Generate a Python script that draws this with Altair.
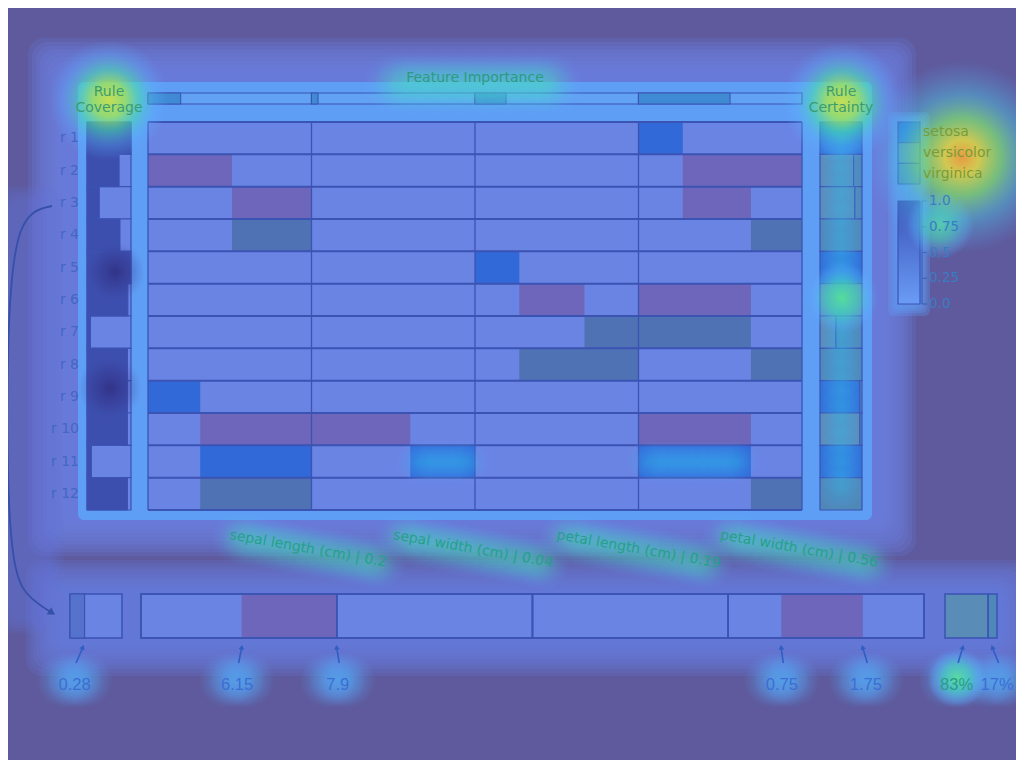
import math
import altair as alt
import pandas as pd

# ---------------- data ----------------
rules = [f"r {i}" for i in range(1, 13)]
features = ["sepal length (cm)", "sepal width (cm)", "petal length (cm)", "petal width (cm)"]
importance = [0.2, 0.04, 0.19, 0.56]
feat_min = [4.3, 2.0, 1.0, 0.1]
feat_max = [7.9, 4.4, 6.9, 2.5]
classes = ["setosa", "versicolor", "virginica"]
rule_output = ["setosa", "versicolor", "versicolor", "virginica", "setosa", "versicolor",
               "virginica", "virginica", "setosa", "versicolor", "setosa", "virginica"]
coverage = [1.0, 0.73, 0.28, 0.75, 1.0, 0.93, 0.08, 0.92, 0.92, 0.92, 0.1, 0.92]
cert_setosa = [1.0, 0.0, 0.0, 0.0, 1.0, 0.0, 0.0, 0.0, 0.95, 0.0, 1.0, 0.0]
cert_versicolor = [0.0, 0.8, 0.83, 0.0, 0.0, 1.0, 0.38, 0.0, 0.05, 0.95, 0.0, 0.0]
cert_virginica = [0.0, 0.2, 0.17, 1.0, 0.0, 0.0, 0.62, 1.0, 0.0, 0.05, 0.0, 1.0]
cond_rule = [1, 2, 2, 3, 3, 4, 4, 5, 6, 6, 7, 7, 8, 8, 9, 10, 10, 10, 11, 11, 11, 12, 12]
cond_feature = [3, 0, 3, 0, 3, 0, 3, 2, 2, 3, 2, 3, 2, 3, 0, 0, 1, 3, 0, 1, 3, 0, 3]
cond_low = [0.1, 4.3, 0.75, 6.15, 0.75, 6.15, 1.75, 1.0, 2.6, 0.1, 4.95, 0.1, 2.6, 1.75,
            4.3, 5.45, 2.0, 0.1, 5.45, 3.45, 0.1, 5.45, 1.75]
cond_high = [0.75, 6.15, 2.5, 7.9, 1.75, 7.9, 2.5, 2.6, 4.95, 1.75, 6.9, 1.75, 6.9, 2.5,
             5.45, 7.9, 3.45, 1.75, 7.9, 4.4, 1.75, 7.9, 2.5]
detail_rule = 3
scale_ticks = [0.0, 0.25, 0.5, 0.75, 1.0]

# ---------------- styles / layout ----------------
W, H = 1008, 752
OFF = 8
BG = "#5e5a9d"
CELL = "#6a84e4"
LINE = "#3b53b3"
COV = "#3d4fae"
class_fill = ["#3169d9", "#6d66ba", "#4f72b4"]
cert_fill = ["#2f72d8", "#5a8cb8", "#4f88b8"]
FONT = "DejaVu Sans"
FONT2 = "Liberation Sans"


def px(v):
    return v - OFF


def lin(dom, rng):
    return alt.Scale(domain=list(dom), range=[px(rng[0]), px(rng[1])], nice=False, zero=False)


IDX = alt.Scale(domain=[0, W], range=[0, W], nice=False, zero=False)
IDY = alt.Scale(domain=[0, H], range=[0, H], nice=False, zero=False)

MX = lin([0, 4], [148, 802])
MY = lin([0, 12], [122, 510])
CX = lin([0, 1], [87, 131])
KX = lin([0, 1], [820, 862])
LY = lin([0, 3], [122, 184])
SY = lin([0, 1], [304, 201])
DC = lin([0, 1], [70, 122])
DM = lin([0, 4], [141, 924])
DK = lin([0, 1], [945, 997])


def mapv(v, d, r):
    return px(r[0]) + (v - d[0]) / (d[1] - d[0]) * (r[1] - r[0])


classcol = alt.Color("cls:N", scale=alt.Scale(domain=classes, range=class_fill), legend=None)
certcol = alt.Color("cls:N", scale=alt.Scale(domain=classes, range=cert_fill), legend=None)

L = []


def soft(x0, y0, x1, y1, color, spread, steps, total):
    a = 1 - (1 - total) ** (1.0 / steps)
    out = []
    for k in range(steps):
        e = spread * (1 - k / (steps - 1))
        out.append(dict(x=px(x0 - e), x2=px(x1 + e), y=px(y0 - e), y2=px(y1 + e), c=color, o=a))
    return out


def rect_layer(rows, radius):
    df = pd.DataFrame(rows)
    return alt.Chart(df).mark_rect(cornerRadius=radius).encode(
        x=alt.X("x:Q", scale=IDX, axis=None), x2="x2",
        y=alt.Y("y:Q", scale=IDY, axis=None), y2="y2",
        fill=alt.Fill("c:N", scale=None), opacity=alt.Opacity("o:Q", scale=None))


# ---- soft panels (the blue wash of the overlay) ----
pan = []
pan += soft(62, 72, 882, 522, "#6a7fe0", 34, 10, 0.9)
pan += soft(56, 590, 1004, 646, "#6682e4", 30, 10, 0.85)
pan += soft(8, 200, 50, 620, "#6478dc", 14, 6, 0.5)
L.append(rect_layer(pan, 16))
gap = []
gap += soft(84, 88, 866, 514, "#5f9ef5", 6, 4, 1.0)
gap += soft(896, 120, 922, 308, "#5f9ef5", 8, 4, 0.75)
L.append(rect_layer(gap, 6))

# ---- feature importance bar ----
imp_df = pd.DataFrame({"f": list(range(4)), "imp": importance})
imp_df["f1"] = imp_df["f"] + 1
imp_df["fe"] = imp_df["f"] + imp_df["imp"]
L.append(alt.Chart(imp_df).mark_rect(fill="#62a2f4", stroke=LINE, strokeWidth=1.2).encode(
    x=alt.X("f:Q", scale=MX, axis=None), x2="f1",
    y=alt.value(px(93)), y2=alt.value(px(104))))
L.append(alt.Chart(imp_df).mark_rect(fill="#3f8ad2", stroke=LINE, strokeWidth=1.0).encode(
    x=alt.X("f:Q", scale=MX, axis=None), x2="fe",
    y=alt.value(px(93)), y2=alt.value(px(104))))

# ---- coverage column ----
cov_df = pd.DataFrame({"r": list(range(12)), "cov": coverage})
cov_df["r1"] = cov_df["r"] + 1
cov_df["z"] = 0.0
cov_df["one"] = 1.0
L.append(alt.Chart(cov_df).mark_rect(fill=CELL, stroke=LINE, strokeWidth=1.2).encode(
    x=alt.X("z:Q", scale=CX, axis=None), x2="one",
    y=alt.Y("r:Q", scale=MY, axis=None), y2="r1"))
L.append(alt.Chart(cov_df).mark_rect(fill=COV, stroke=LINE, strokeWidth=1.0).encode(
    x=alt.X("z:Q", scale=CX, axis=None), x2="cov",
    y=alt.Y("r:Q", scale=MY, axis=None), y2="r1"))

# ---- matrix ----
cells = pd.DataFrame([dict(r=r, f=f, r1=r + 1, f1=f + 1) for r in range(12) for f in range(4)])
L.append(alt.Chart(cells).mark_rect(fill=CELL).encode(
    x=alt.X("f:Q", scale=MX, axis=None), x2="f1",
    y=alt.Y("r:Q", scale=MY, axis=None), y2="r1"))

cond = pd.DataFrame({"rule": cond_rule, "f": cond_feature, "lo": cond_low, "hi": cond_high})
cond["r"] = cond["rule"] - 1
cond["r1"] = cond["r"] + 1
cond["a"] = [f + (lo - feat_min[f]) / (feat_max[f] - feat_min[f]) for f, lo in zip(cond["f"], cond["lo"])]
cond["b"] = [f + (hi - feat_min[f]) / (feat_max[f] - feat_min[f]) for f, hi in zip(cond["f"], cond["hi"])]
cond["cls"] = [rule_output[r] for r in cond["r"]]
L.append(alt.Chart(cond).mark_rect().encode(
    x=alt.X("a:Q", scale=MX, axis=None), x2="b",
    y=alt.Y("r:Q", scale=MY, axis=None), y2="r1", color=classcol))

hl = pd.DataFrame({"r": list(range(13))})
L.append(alt.Chart(hl).mark_rule(color=LINE, strokeWidth=2).encode(
    y=alt.Y("r:Q", scale=MY, axis=None), x=alt.value(px(148)), x2=alt.value(px(802))))
vl = pd.DataFrame({"f": list(range(5))})
L.append(alt.Chart(vl).mark_rule(color=LINE, strokeWidth=1.3).encode(
    x=alt.X("f:Q", scale=MX, axis=None), y=alt.value(px(122)), y2=alt.value(px(510))))

# ---- certainty column ----
seg = []
for r in range(12):
    acc = 0.0
    for c, vals in zip(classes, [cert_setosa, cert_versicolor, cert_virginica]):
        v = vals[r]
        if v > 0:
            seg.append(dict(r=r, r1=r + 1, s=acc, e=acc + v, cls=c))
            acc += v
seg_df = pd.DataFrame(seg)
L.append(alt.Chart(seg_df).mark_rect(stroke=LINE, strokeWidth=1.2).encode(
    x=alt.X("s:Q", scale=KX, axis=None), x2="e",
    y=alt.Y("r:Q", scale=MY, axis=None), y2="r1", color=certcol))

# ---- legend ----
leg = pd.DataFrame({"i": [0, 1, 2], "cls": classes})
leg["i1"] = leg["i"] + 1
leg["im"] = leg["i"] + 0.5
L.append(alt.Chart(leg).mark_rect(stroke=LINE, strokeWidth=1.2).encode(
    y=alt.Y("i:Q", scale=LY, axis=None), y2="i1",
    x=alt.value(px(898)), x2=alt.value(px(920)), color=certcol))

bar = pd.DataFrame({"lo": [0.0], "hi": [1.0]})
L.append(alt.Chart(bar).mark_rect(
    fill={"gradient": "linear", "x1": 0, "y1": 0, "x2": 0, "y2": 1,
          "stops": [{"offset": 0, "color": "#3a52b6"}, {"offset": 1, "color": "#6a9cf6"}]},
    stroke=LINE, strokeWidth=1.2).encode(
    y=alt.Y("lo:Q", scale=SY, axis=None), y2="hi",
    x=alt.value(px(898)), x2=alt.value(px(920))))
L.append(alt.Chart(bar).mark_rule(color="#3a62bc", strokeWidth=1.2).encode(
    y=alt.Y("lo:Q", scale=SY, axis=None), y2="hi", x=alt.value(px(922))))
tk = pd.DataFrame({"t": scale_ticks, "lab": ["0.0", "0.25", "0.5", "0.75", "1.0"]})
L.append(alt.Chart(tk).mark_rule(color="#3a62bc", strokeWidth=1.2).encode(
    y=alt.Y("t:Q", scale=SY, axis=None), x=alt.value(px(922)), x2=alt.value(px(927))))

# ---- bottom detail of the selected rule ----
dr = detail_rule - 1
dbox = pd.DataFrame({"z": [0.0], "one": [1.0], "cov": [coverage[dr]]})
L.append(alt.Chart(dbox).mark_rect(fill=CELL, stroke=LINE, strokeWidth=1.5).encode(
    x=alt.X("z:Q", scale=DC, axis=None), x2="one", y=alt.value(px(594)), y2=alt.value(px(638))))
L.append(alt.Chart(dbox).mark_rect(fill="#5572cc", stroke=LINE, strokeWidth=1.2).encode(
    x=alt.X("z:Q", scale=DC, axis=None), x2="cov", y=alt.value(px(594)), y2=alt.value(px(638))))
L.append(alt.Chart(imp_df).mark_rect(fill=CELL, stroke=LINE, strokeWidth=1.5).encode(
    x=alt.X("f:Q", scale=DM, axis=None), x2="f1", y=alt.value(px(594)), y2=alt.value(px(638))))
dcond = cond[cond["rule"] == detail_rule].copy()
L.append(alt.Chart(dcond).mark_rect().encode(
    x=alt.X("a:Q", scale=DM, axis=None), x2="b", y=alt.value(px(595)), y2=alt.value(px(637)),
    color=classcol))
L.append(alt.Chart(imp_df).mark_rect(filled=False, stroke=LINE, strokeWidth=1.5).encode(
    x=alt.X("f:Q", scale=DM, axis=None), x2="f1", y=alt.value(px(594)), y2=alt.value(px(638))))
dseg = seg_df[seg_df["r"] == dr].copy()
L.append(alt.Chart(dseg).mark_rect(stroke=LINE, strokeWidth=1.5).encode(
    x=alt.X("s:Q", scale=DK, axis=None), x2="e", y=alt.value(px(594)), y2=alt.value(px(638)),
    color=certcol))

# bottom annotation positions
ann = []
ann.append(dict(tip=mapv(coverage[dr], [0, 1], [70, 122]) - 2, dx=-8, t=f"{coverage[dr]:.2f}",
                c="#3a6ed4"))
for _, row in dcond.iterrows():
    f = int(row["f"])
    for v, dx in ((row["lo"], -4.5 if f == 0 else 0.5), (row["hi"], 1 if f == 0 else 3)):
        xv = f + (v - feat_min[f]) / (feat_max[f] - feat_min[f])
        ann.append(dict(tip=mapv(xv, [0, 4], [141, 924]), dx=dx, t=f"{v:g}", c="#3a6ed4"))
for _, row in dseg.iterrows():
    mid = (row["s"] + row["e"]) / 2
    big = row["e"] < 0.99
    ann.append(dict(tip=mapv(mid, [0, 1], [945, 997]) - (4 if big else 0),
                    dx=-6 if big else 4.5, t=f"{round(row['e'] - row['s'], 2) * 100:.0f}%",
                    c="#2a9c86" if big else "#3a6ed4"))
ann_df = pd.DataFrame(ann)
ann_df["lx"] = ann_df["tip"] + ann_df["dx"]
ann_df["tail"] = ann_df["lx"] + 1.5
ann_df["ty"] = px(648)
ann_df["by"] = px(663)
ann_df["ly"] = px(685)
ann_df["ang"] = [(math.degrees(math.atan2(tp - tl, 15)) + 360) % 360
                 for tp, tl in zip(ann_df["tip"], ann_df["tail"])]


# ---- glows (heat overlay look) ----
def glow_layer(items, stops):
    rows = []
    for cx, cy, rad in items:
        rows.append(dict(x=px(cx - rad), x2=px(cx + rad), y=px(cy - rad), y2=px(cy + rad)))
    df = pd.DataFrame(rows)
    return alt.Chart(df).mark_rect(
        fill={"gradient": "radial", "x1": 0.5, "y1": 0.5, "r1": 0, "x2": 0.5, "y2": 0.5, "r2": 0.5,
              "stops": stops}).encode(
        x=alt.X("x:Q", scale=IDX, axis=None), x2="x2",
        y=alt.Y("y:Q", scale=IDY, axis=None), y2="y2")


def st(*pairs):
    return [{"offset": o, "color": c} for o, c in pairs]


dark = st((0, "rgba(42,32,110,0.6)"), (0.6, "rgba(50,45,130,0.25)"), (1, "rgba(60,60,150,0)"))
soft_green = st((0, "rgba(70,235,175,0.30)"), (0.5, "rgba(70,215,205,0.18)"), (1, "rgba(90,170,255,0)"))
soft_cyan = st((0, "rgba(40,200,230,0.28)"), (0.55, "rgba(60,175,240,0.16)"), (1, "rgba(90,170,255,0)"))
lab_cyan = st((0, "rgba(80,175,250,0.5)"), (0.5, "rgba(85,170,250,0.3)"), (1, "rgba(90,170,255,0)"))
green = st((0, "rgba(90,235,140,0.8)"), (0.45, "rgba(70,220,180,0.55)"), (0.8, "rgba(90,185,255,0.25)"),
           (1, "rgba(90,170,255,0)"))
hot = st((0, "rgba(205,228,70,0.92)"), (0.28, "rgba(160,232,85,0.8)"), (0.52, "rgba(70,226,175,0.55)"),
         (0.78, "rgba(90,182,255,0.28)"), (1, "rgba(90,170,255,0)"))
hotter = st((0, "rgba(245,160,60,0.92)"), (0.18, "rgba(225,215,70,0.88)"), (0.4, "rgba(130,232,110,0.7)"),
            (0.66, "rgba(75,205,230,0.42)"), (1, "rgba(90,170,255,0)"))

L.append(glow_layer([(115, 272, 30), (110, 388, 32)], dark))

chain = []
for x in range(395, 560, 12):
    chain.append((x, 84, 32))
for f in range(4):
    sx, sy = 230 + f * 163.5, 537
    for s in range(8, 160, 12):
        chain.append((sx + s * math.cos(math.radians(10)), sy + s * math.sin(math.radians(10)), 27))
L.append(glow_layer(chain, soft_green))

cch = []
for x in range(418, 472, 10):
    cch.append((x, 462, 22))
for x in range(648, 748, 10):
    cch.append((x, 462, 22))
for y in range(125, 500, 14):
    cch.append((841, y, 22))
L.append(glow_layer(cch, soft_cyan))

lg = []
for v in ann_df["lx"]:
    for d in (-10, 0, 10):
        lg.append((v + OFF + d, 680, 28))
L.append(glow_layer(lg, lab_cyan))
L.append(glow_layer([(842, 298, 36), (957, 678, 30), (940, 225, 34)], green))
L.append(glow_layer([(109, 100, 60), (842, 102, 60)], hot))
L.append(glow_layer([(962, 157, 96)], hotter))

# ---- texts ----
lab_df = pd.DataFrame({"rule": rules, "rm": [r + 0.5 for r in range(12)]})
L.append(alt.Chart(lab_df).mark_text(font=FONT, fontSize=14, color="#4466c4", align="right",
                                     baseline="middle").encode(
    y=alt.Y("rm:Q", scale=MY, axis=None), x=alt.value(px(79)), text="rule:N"))

titles = pd.DataFrame([
    dict(x=px(109), y=px(92), t="Rule\nCoverage"),
    dict(x=px(841), y=px(92), t="Rule\nCertainty"),
])
L.append(alt.Chart(titles).mark_text(font=FONT, fontSize=14, color="#3b9c74", align="center",
                                     baseline="middle", lineBreak="\n", lineHeight=16).encode(
    x=alt.X("x:Q", scale=IDX, axis=None), y=alt.Y("y:Q", scale=IDY, axis=None), text="t:N"))
ft = pd.DataFrame([dict(x=px(475), y=px(78), t="Feature Importance")])
L.append(alt.Chart(ft).mark_text(font=FONT, fontSize=14, color="#2e9a84", align="center",
                                 baseline="middle").encode(
    x=alt.X("x:Q", scale=IDX, axis=None), y=alt.Y("y:Q", scale=IDY, axis=None), text="t:N"))

flab = pd.DataFrame({"fm": [f + 0.5 for f in range(4)],
                     "t": [f"{n} | {v}" for n, v in zip(features, importance)]})
L.append(alt.Chart(flab).mark_text(font=FONT, fontSize=14, color="#25a08a", align="left",
                                   baseline="middle", angle=10).encode(
    x=alt.X("fm:Q", scale=MX, axis=None), y=alt.value(px(535)), text="t:N"))

L.append(alt.Chart(leg).mark_text(font=FONT, fontSize=14, color="#7a9c38", align="left",
                                  baseline="middle").encode(
    y=alt.Y("im:Q", scale=LY, axis=None), x=alt.value(px(923)), text="cls:N"))
L.append(alt.Chart(tk).mark_text(font=FONT, fontSize=13.5, color="#3a7cc4", align="left",
                                 baseline="middle").encode(
    y=alt.Y("t:Q", scale=SY, axis=None), x=alt.value(px(929)), text="lab:N"))

L.append(alt.Chart(ann_df).mark_rule(strokeWidth=1.6, color="#2f5ec4").encode(
    x=alt.X("tail:Q", scale=IDX, axis=None), x2="tip",
    y=alt.Y("by:Q", scale=IDY, axis=None), y2="ty"))
L.append(alt.Chart(ann_df).mark_point(shape="triangle", filled=True, size=30, opacity=1,
                                      color="#2f5ec4").encode(
    x=alt.X("tip:Q", scale=IDX, axis=None), y=alt.Y("ty:Q", scale=IDY, axis=None),
    angle=alt.Angle("ang:Q", scale=None)))
L.append(alt.Chart(ann_df).mark_text(font=FONT2, fontSize=16.5, align="center",
                                     baseline="middle").encode(
    x=alt.X("lx:Q", scale=IDX, axis=None), y=alt.Y("ly:Q", scale=IDY, axis=None),
    text="t:N", color=alt.Color("c:N", scale=None)))

# curved connector from the rule row to its detail
curve = pd.DataFrame({"i": list(range(7)),
                      "x": [px(v) for v in [52, 16, 7, 7, 14, 32, 52]],
                      "y": [px(v) for v in [206, 214, 330, 490, 580, 600, 613]]})
L.append(alt.Chart(curve).mark_line(color="#3550a8", strokeWidth=1.8, interpolate="basis").encode(
    x=alt.X("x:Q", scale=IDX, axis=None), y=alt.Y("y:Q", scale=IDY, axis=None),
    order=alt.Order("i:Q")))
head = pd.DataFrame({"x": [px(51)], "y": [px(612)],
                     "ang": [(math.degrees(math.atan2(52 - 32, -(613 - 600))) + 360) % 360]})
L.append(alt.Chart(head).mark_point(shape="triangle", filled=True, size=70, color="#3550a8",
                                    opacity=1).encode(
    x=alt.X("x:Q", scale=IDX, axis=None), y=alt.Y("y:Q", scale=IDY, axis=None),
    angle=alt.Angle("ang:Q", scale=None)))

chart = alt.layer(*L).resolve_scale(
    x="independent", y="independent", color="independent"
).properties(
    width=W, height=H, autosize=alt.AutoSizeParams(type="none"), padding=0, background=BG
).configure_view(stroke=None)

chart.save("out.html", embed_options={"renderer": "svg", "actions": False})
